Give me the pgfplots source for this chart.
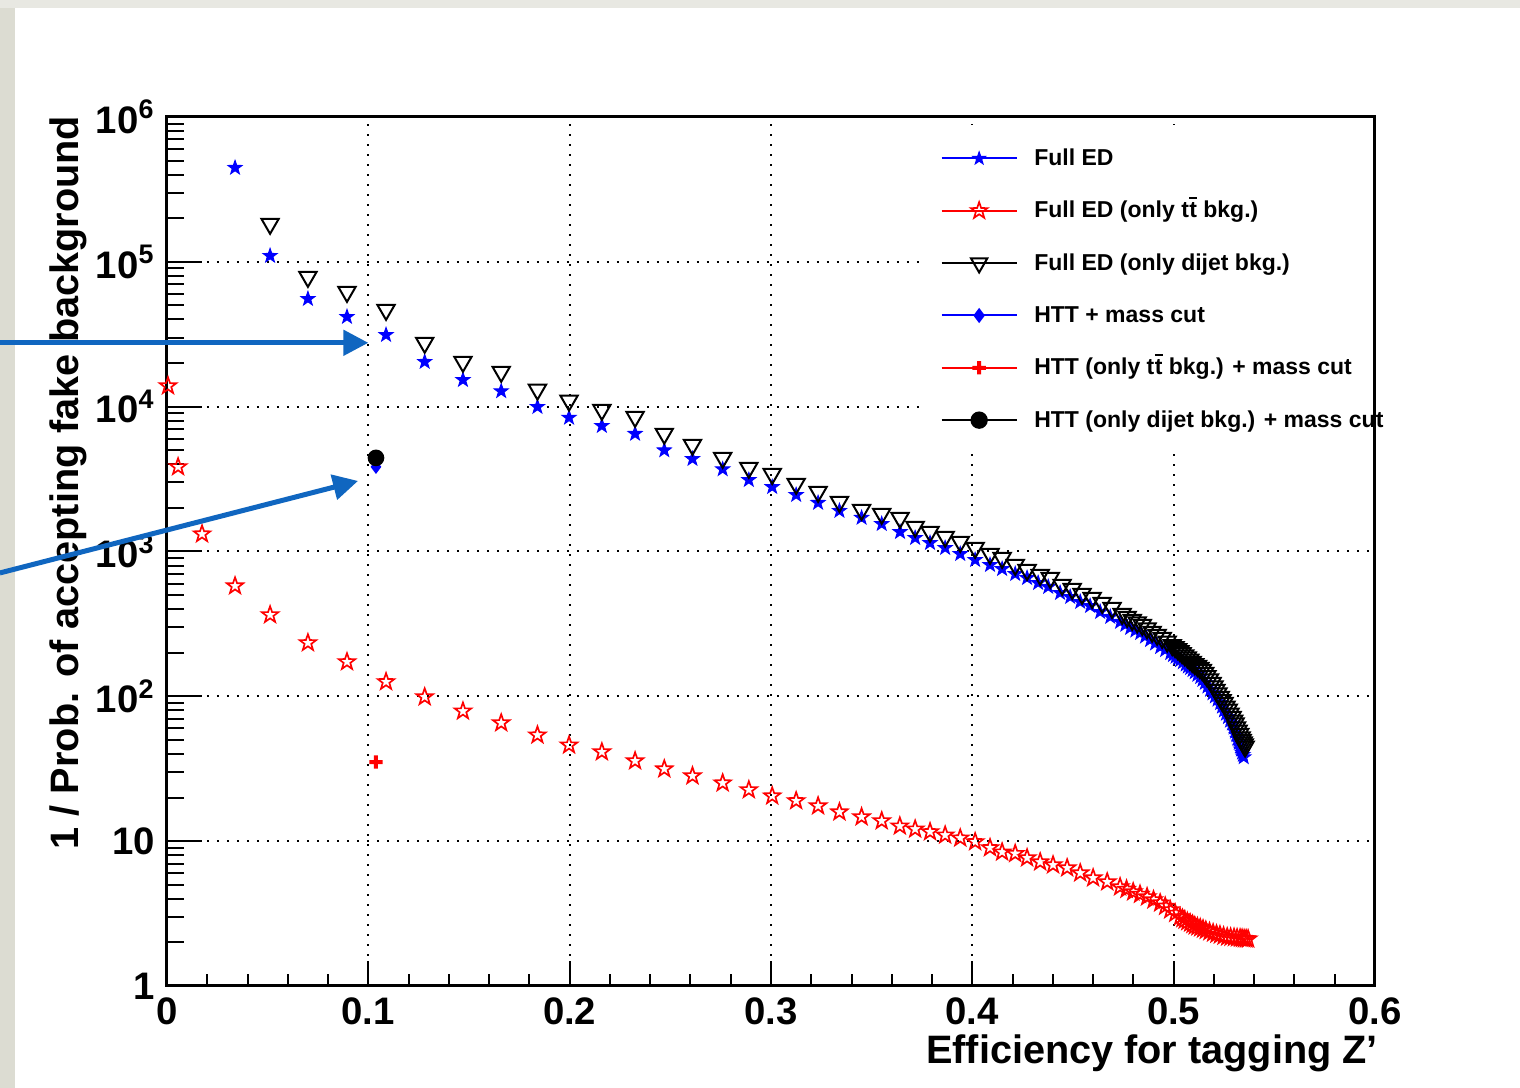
\documentclass[border=0pt]{standalone}
\usepackage{fontspec}
\setmainfont{Liberation Sans}
\usepackage{pgfplots}
\pgfplotsset{compat=1.18}
\usetikzlibrary{arrows.meta}
\definecolor{arrowblue}{RGB}{16,102,192}
\definecolor{topgray}{RGB}{232,232,226}
\definecolor{leftgray}{RGB}{220,220,210}

% ROOT-like five-pointed stars and filled cross
\def\starpath{%
  \pgfpathmoveto{\pgfqpoint{0pt}{\pgfplotmarksize}}%
  \pgfpathlineto{\pgfqpoint{-.235\pgfplotmarksize}{.324\pgfplotmarksize}}%
  \pgfpathlineto{\pgfqpoint{-.951\pgfplotmarksize}{.309\pgfplotmarksize}}%
  \pgfpathlineto{\pgfqpoint{-.380\pgfplotmarksize}{-.124\pgfplotmarksize}}%
  \pgfpathlineto{\pgfqpoint{-.588\pgfplotmarksize}{-.809\pgfplotmarksize}}%
  \pgfpathlineto{\pgfqpoint{0pt}{-.4\pgfplotmarksize}}%
  \pgfpathlineto{\pgfqpoint{.588\pgfplotmarksize}{-.809\pgfplotmarksize}}%
  \pgfpathlineto{\pgfqpoint{.380\pgfplotmarksize}{-.124\pgfplotmarksize}}%
  \pgfpathlineto{\pgfqpoint{.951\pgfplotmarksize}{.309\pgfplotmarksize}}%
  \pgfpathlineto{\pgfqpoint{.235\pgfplotmarksize}{.324\pgfplotmarksize}}%
  \pgfpathclose}
\pgfdeclareplotmark{fstar}{\starpath\pgfusepathqfillstroke}
\pgfdeclareplotmark{ostar}{\starpath\pgfusepathqstroke}
\pgfdeclareplotmark{fcross}{%
  \pgfpathrectanglecorners{\pgfqpoint{-\pgfplotmarksize}{-.3\pgfplotmarksize}}{\pgfqpoint{\pgfplotmarksize}{.3\pgfplotmarksize}}%
  \pgfpathrectanglecorners{\pgfqpoint{-.3\pgfplotmarksize}{-\pgfplotmarksize}}{\pgfqpoint{.3\pgfplotmarksize}{\pgfplotmarksize}}%
  \pgfusepathqfill}

\newcommand{\ttbar}{t\kern0.02em$\overline{\mbox{t}}$}

\begin{document}
\begin{tikzpicture}
\useasboundingbox (-50.1pt,-30.6pt) rectangle (405.9pt,295.8pt);
\fill[white] (-50.1pt,-30.6pt) rectangle (405.9pt,295.8pt);
\fill[leftgray] (-50.1pt,-30.6pt) rectangle (-45.6pt,295.8pt);
\fill[topgray] (-50.1pt,293.4pt) rectangle (405.9pt,295.8pt);
\begin{axis}[
at={(0pt,0pt)}, anchor=south west,
scale only axis,
width=362.4pt, height=260.7pt,
xmin=0, xmax=0.6,
ymin=1, ymax=1e6,
ymode=log,
xtick={0,0.1,0.2,0.3,0.4,0.5,0.6},
xticklabels={0,0.1,0.2,0.3,0.4,0.5,0.6},
minor x tick num=4,
ytick={1,10,100,1000,10000,100000,1000000},
yticklabels={1,10,10\textsuperscript{2},10\textsuperscript{3},10\textsuperscript{4},10\textsuperscript{5},10\textsuperscript{6}},
tick align=inside,
tick pos=left,
xtick style={/pgfplots/major tick length=7.5pt,/pgfplots/minor tick length=3.6pt},
ytick style={/pgfplots/major tick length=10.5pt,/pgfplots/minor tick length=5.2pt},
tick style={black, line width=0.6pt},
axis line style={line width=0.9pt},
grid=major,
major grid style={black, line width=0.6pt, dash pattern=on 0.6pt off 2.4pt},
tick label style={font=\bfseries\fontsize{11.5}{13}\selectfont},
xlabel={Efficiency for tagging Z’},
ylabel={1 / Prob. of accepting fake background},
label style={font=\bfseries\fontsize{11.9}{14}\selectfont},
xlabel style={at={(axis description cs:1.003,-0.077)}, anchor=east, inner sep=0pt},
ylabel style={at={(axis description cs:-0.082,1.002)}, anchor=east, inner sep=0pt},
legend image code/.code={\draw[mark repeat=2,mark phase=2] plot coordinates {(0pt,0pt) (11.25pt,0pt) (22.5pt,0pt)};},
legend style={draw=none, fill=white, inner xsep=5.4pt, inner ysep=6pt,
  at={(axis description cs:0.625,0.991)}, anchor=north west,
  font=\bfseries\fontsize{6.9}{8}\selectfont, row sep=7.9pt, column sep=5pt,
  nodes={inner sep=0pt, text height=6pt, text depth=1.8pt}},
legend cell align=left,
clip=false
]

% Full ED
\addplot[only marks, forget plot, color=blue, mark=fstar, mark size=2.2pt, line width=0.3pt] coordinates {
(0.0338,446000)(0.0512,110000)(0.0700,55500)(0.0894,41700)(0.1088,31300)(0.1280,20400)(0.1470,15300)(0.1660,12800)(0.1840,9970)(0.1997,8400)(0.2160,7370)(0.2325,6500)(0.2470,5000)(0.2610,4360)(0.2760,3700)(0.2890,3120)(0.3006,2790)(0.3125,2460)(0.3234,2170)(0.3340,1910)(0.3450,1710)(0.3550,1550)(0.3641,1365)(0.3716,1242)(0.3790,1146)(0.3865,1059)(0.3940,962)(0.4014,875)(0.4088,808)(0.4148,758)(0.4213,700)(0.4272,657)(0.4327,607)(0.4377,570)(0.4436,518)(0.4486,486)(0.4536,449)(0.4585,421)(0.4635,383)(0.4685,354)
(0.4734,327)(0.4760,312)(0.4784,297)(0.4810,285)(0.4834,274)(0.4858,259)(0.4883,245)(0.4908,232)(0.4933,219)(0.4958,209)(0.4983,199)(0.4997,193)(0.5010,188)(0.5021,183)(0.5032,178)(0.5046,172)(0.5060,166)(0.5071,161)(0.5082,157)(0.5094,152)(0.5105,147)(0.5118,141)(0.5132,136)(0.5143,130)(0.5155,124)(0.5168,117)(0.5181,111)(0.5193,105)(0.5205,100)(0.5218,95)(0.5231,90)(0.5240,85)(0.5250,80)(0.5260,76)(0.5270,72)(0.5280,68)(0.5290,65)(0.5298,61)(0.5305,57)(0.5312,54)(0.5318,51)(0.5324,48)(0.5330,45)(0.5335,43)(0.5340,41)(0.5344,39.5)(0.5348,38)
};

% Full ED (only ttbar bkg.)
\addplot[only marks, forget plot, color=red, mark=ostar, mark size=2.6pt, line width=0.5pt] coordinates {
(0.0005,13900)(0.0055,3840)(0.0174,1320)(0.0338,578)(0.0512,365)(0.0700,234)(0.0894,173)(0.1088,126)(0.1280,99)(0.1470,79)(0.1660,65.5)(0.1840,54)(0.1997,46)(0.2160,41.3)(0.2325,35.8)(0.2470,31.5)(0.2610,28.2)(0.2760,25.2)(0.2890,22.6)(0.3006,20.5)(0.3125,19)(0.3234,17.5)(0.3340,15.9)(0.3450,14.7)(0.3550,13.8)(0.3640,12.7)(0.3716,12.1)(0.3790,11.6)(0.3865,11.0)(0.3940,10.5)(0.4014,9.9)(0.4088,9.0)(0.4148,8.4)(0.4213,8.2)(0.4272,7.66)(0.4337,7.18)(0.4401,6.85)(0.4471,6.53)(0.4536,6.03)(0.4600,5.57)(0.4670,5.23)
(0.4734,4.83)(0.4766,4.65)(0.4799,4.46)(0.4833,4.29)(0.4868,4.12)(0.4900,3.93)(0.4933,3.74)(0.4958,3.55)(0.4983,3.35)(0.5008,3.17)(0.5032,3.0)(0.5044,2.92)(0.5055,2.85)(0.5068,2.78)(0.5082,2.72)(0.5094,2.66)(0.5105,2.6)(0.5118,2.56)(0.5132,2.52)(0.5146,2.47)(0.5160,2.42)(0.5178,2.37)(0.5196,2.32)(0.5213,2.28)(0.5230,2.25)(0.5248,2.21)(0.5266,2.18)(0.5283,2.17)(0.5300,2.16)(0.5315,2.15)(0.5330,2.14)(0.5340,2.13)(0.5350,2.12)(0.5360,2.115)(0.5370,2.11)
};

% Full ED (only dijet bkg.)
\addplot[only marks, forget plot, color=black, mark=triangle, mark options={rotate=180}, mark size=3pt, line width=0.6pt] coordinates {
(0.0512,183000)(0.0700,78700)(0.0894,62000)(0.1088,46600)(0.1280,27600)(0.1470,20400)(0.1660,17400)(0.1840,13100)(0.1997,11000)(0.2160,9500)(0.2325,8500)(0.2470,6500)(0.2610,5450)(0.2760,4430)(0.2890,3780)(0.3006,3430)(0.3125,2930)(0.3234,2580)(0.3340,2200)(0.3450,1940)(0.3550,1820)(0.3641,1706)(0.3716,1479)(0.3790,1366)(0.3865,1262)(0.3940,1165)(0.4014,1059)(0.4088,962)(0.4148,903)(0.4213,808)(0.4272,746)(0.4337,689)(0.4387,657)(0.4446,589)(0.4496,552)(0.4545,510)(0.4595,478)(0.4645,442)(0.4694,408)
(0.4744,371)(0.4769,354)(0.4794,337)(0.4819,324)(0.4844,311)(0.4868,295)(0.4893,279)(0.4918,266)(0.4943,253)(0.4968,239)(0.4993,226)(0.5007,219)(0.5020,212)(0.5031,205)(0.5042,199)(0.5055,192)(0.5068,186)(0.5080,179)(0.5092,173)(0.5105,167)(0.5118,162)(0.5130,157)(0.5142,152)(0.5154,145)(0.5165,138)(0.5178,131)(0.5191,124)(0.5200,117)(0.5210,111)(0.5220,105)(0.5231,99)(0.5240,94)(0.5250,90)(0.5260,85)(0.5271,81)(0.5280,76)(0.5290,72)(0.5298,68)(0.5305,65)(0.5312,61)(0.5320,58)(0.5328,55)(0.5335,52)(0.5340,50)(0.5345,48)(0.5350,46.5)(0.5355,45)
};

% HTT + mass cut
\addplot[only marks, forget plot, color=blue, mark=diamond*, mark size=1.8pt] coordinates {(0.1038,3840)};
% HTT (only ttbar bkg.) + mass cut
\addplot[only marks, forget plot, color=red, mark=fcross, mark size=2pt] coordinates {(0.1038,35.2)};
% HTT (only dijet bkg.) + mass cut
\addplot[only marks, forget plot, color=black, mark=*, mark size=2.3pt] coordinates {(0.1038,4430)};

\addlegendimage{blue, line width=0.6pt, mark=fstar, mark size=2pt, mark options={line width=0.3pt}}
\addlegendentry{Full ED}
\addlegendimage{red, line width=0.6pt, mark=ostar, mark size=2.6pt, mark options={line width=0.5pt}}
\addlegendentry{Full ED (only \ttbar\ bkg.)}
\addlegendimage{black, line width=0.6pt, mark=triangle, mark size=2.8pt, mark options={rotate=180}}
\addlegendentry{Full ED (only dijet bkg.)}
\addlegendimage{blue, line width=0.6pt, mark=diamond*, mark size=1.8pt}
\addlegendentry{HTT + mass cut}
\addlegendimage{red, line width=0.6pt, mark=fcross, mark size=2pt}
\addlegendentry{HTT (only \ttbar\ bkg.) + mass cut}
\addlegendimage{black, line width=0.6pt, mark=*, mark size=2.3pt}
\addlegendentry{HTT (only dijet bkg.) + mass cut}

\coordinate (s1) at (axis cs:-0.083,27600);
\coordinate (t1) at (axis cs:0.1,27600);
\coordinate (s2) at (axis cs:-0.083,711);
\coordinate (t2) at (axis cs:0.0949,3070);
\coordinate (r1) at (axis cs:0.6,1);
\coordinate (r2) at (axis cs:0.6,1e6);
\end{axis}
\draw[line width=0.9pt, line cap=rect] (r1) -- (r2);
\draw[arrowblue, line width=1.5pt, -{Triangle[length=7.5pt,width=7.5pt]}] (s1) -- (t1);
\draw[arrowblue, line width=1.5pt, -{Triangle[length=7.5pt,width=7.5pt]}] (s2) -- (t2);
\end{tikzpicture}
\end{document}
